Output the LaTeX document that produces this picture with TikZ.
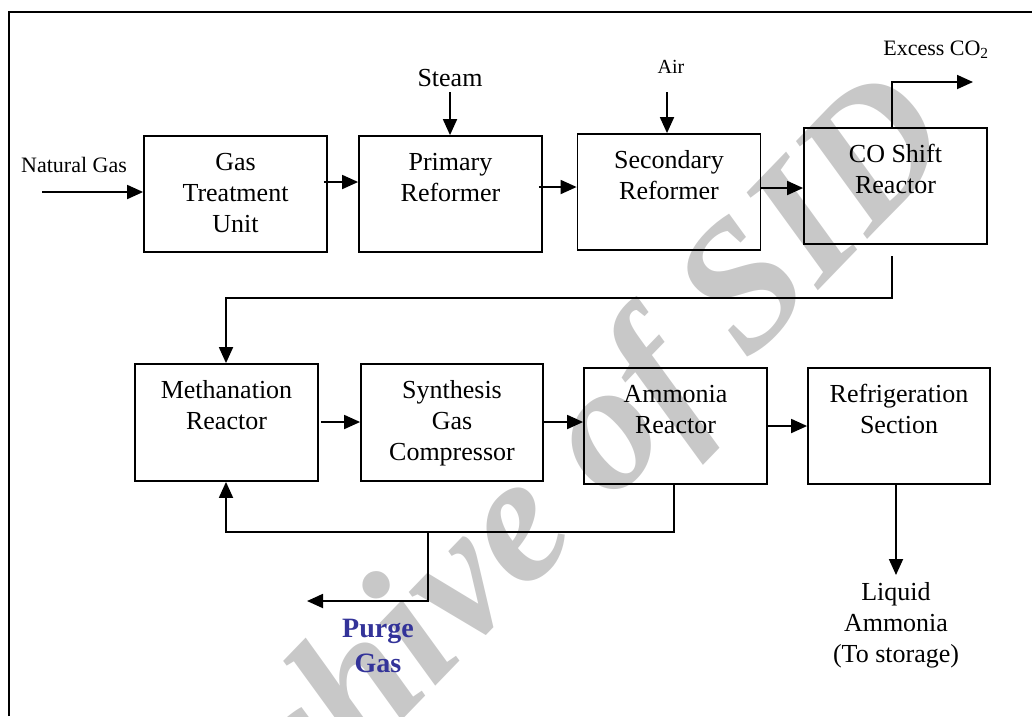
\documentclass[tikz,border=0pt]{standalone}
\usepackage{fontspec}
\setmainfont{Liberation Serif}
\usetikzlibrary{arrows.meta}
\definecolor{purgeblue}{RGB}{51,51,153}
\definecolor{wmgray}{RGB}{200,200,200}
\tikzset{
  box/.style={draw, line width=1.8pt, minimum width=183pt, minimum height=116pt, inner sep=0pt},
  btxt/.style={anchor=north, align=center, inner sep=0pt, font=\fontsize{26}{31}\selectfont},
  ftxt/.style={align=center, inner sep=0pt, font=\fontsize{26}{31}\selectfont},
  small/.style={inner sep=0pt, font=\fontsize{22}{26}\selectfont},
  flow/.style={line width=1.8pt, -{Triangle[length=16pt,width=14pt]}},
  frame/.style={line width=1.8pt},
  wmark/.style={inner sep=0pt, text=wmgray, rotate=46, font=\fontsize{182}{182}\selectfont\bfseries\itshape},
}
\begin{document}
\begin{tikzpicture}[x=1pt,y=-1pt]
\useasboundingbox (0,0) rectangle (1032,716);
% watermark
\node[wmark] (wmk) at (534,520) {Archive of SID};
% frame
\coordinate (fa) at (9,716);
\coordinate (fb) at (9,12);
\coordinate (fc) at (1032,12);
\draw[frame] (fa) -- (fb) -- (fc);
% boxes
\node[box] (gtu) at (235.5,194) {};
\node[box] (pr)  at (450.5,194) {};
\node[box] (sr)  at (669,192) {};
\node[box] (co)  at (895.5,186) {};
\node[box, minimum height=117pt] (mr)  at (226.5,422.5) {};
\node[box, minimum width=182pt, minimum height=117pt] (sgc) at (452,422.5) {};
\node[box] (ar)  at (675.5,426) {};
\node[box, minimum width=182pt] (rs)  at (899,426) {};
% box texts
\node[btxt] (gtut) at ([yshift=-13.3pt]gtu.north) {\strut Gas\\Treatment\\Unit};
\node[btxt] (prt)  at ([yshift=-13.3pt]pr.north) {\strut Primary\\Reformer};
\node[btxt] (srt)  at ([yshift=-13.3pt]sr.north) {\strut Secondary\\Reformer};
\node[btxt] (cot)  at ([yshift=-13.3pt]co.north) {\strut CO Shift\\Reactor};
\node[btxt] (mrt)  at ([yshift=-13.3pt]mr.north) {\strut Methanation\\Reactor};
\node[btxt] (sgct) at ([yshift=-13.3pt]sgc.north) {\strut Synthesis\\Gas\\Compressor};
\node[btxt] (art)  at ([yshift=-13.3pt]ar.north) {\strut Ammonia\\Reactor};
\node[btxt] (rst)  at ([yshift=-13.3pt]rs.north) {\strut Refrigeration\\Section};
% free texts
\node[small, anchor=base] (ng) at (74,172) {Natural Gas};
\node[ftxt, anchor=base] (steam) at (450,86) {Steam};
\node[inner sep=0pt, anchor=base, font=\fontsize{20}{24}\selectfont] (air) at (671,73) {Air};
\node[small, anchor=base] (xco) at (936,55) {Excess CO\textsubscript{2}};
\node[ftxt, anchor=north] (liq) at (896,578.3) {\strut Liquid\\Ammonia\\(To storage)};
\node[align=center, inner sep=0pt, anchor=north, text=purgeblue, font=\fontsize{28}{35}\selectfont\bfseries] (pg) at (378,612.5) {\strut Purge\\Gas};
% free coordinates
\coordinate (ngs) at (42,192);
\coordinate (sts) at (450,92);
\coordinate (ais) at (667,92);
\coordinate (xc1) at (892,82);
\coordinate (xc2) at (973,82);
\coordinate (cod) at (892,256);
\coordinate (c1) at (892,298);
\coordinate (c2) at (226,298);
\coordinate (r1) at (674,532);
\coordinate (r2) at (226,532);
\coordinate (p0) at (428,532);
\coordinate (p1) at (428,601);
\coordinate (p2) at (307,601);
\coordinate (la) at (896,575);
% connectors top row
\draw[flow] (ngs) -- (ngs -| gtu.west);
\draw[flow] ([xshift=-4pt]gtu.east |- 0,182) -- (pr.west |- 0,182);
\draw[flow] ([xshift=-4pt]pr.east |- 0,187) -- (sr.west |- 0,187);
\draw[flow] (sr.east |- 0,188) -- (co.west |- 0,188);
\draw[flow] (sts) -- (sts |- pr.north);
\draw[flow] (ais) -- (ais |- sr.north);
\draw[flow] (xc1 |- co.north) -- (xc1) -- (xc2);
% link to second row
\draw[flow] (cod) -- (c1) -- (c2) -- (c2 |- mr.north);
% second row
\draw[flow] ([xshift=2pt]mr.east |- 0,422) -- (sgc.west |- 0,422);
\draw[flow] (sgc.east |- 0,422) -- (ar.west |- 0,422);
\draw[flow] (ar.east |- 0,426) -- (rs.west |- 0,426);
% recycle
\draw[flow] (r1 |- ar.south) -- (r1) -- (r2) -- (r2 |- mr.south);
% purge
\draw[flow] (p0) -- (p1) -- (p2);
% product
\draw[flow] (la |- rs.south) -- (la);
\end{tikzpicture}
\end{document}
